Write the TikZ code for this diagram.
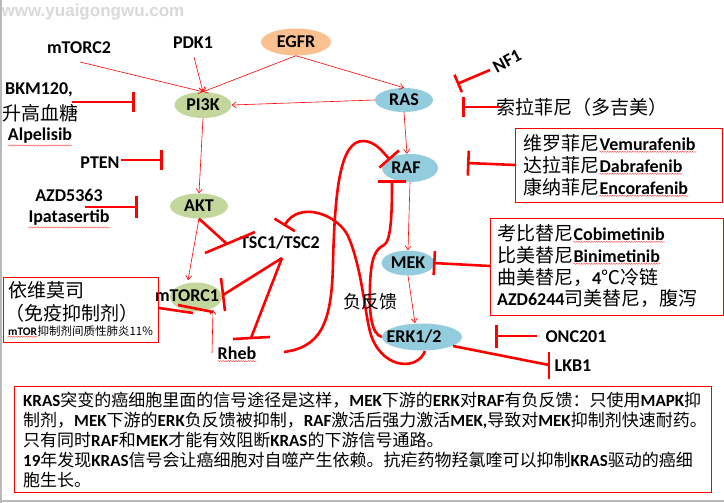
\documentclass[tikz,border=0pt]{standalone}
\usepackage{fontspec}
\setmainfont{Carlito}
\newfontfamily\cjk{Noto Sans CJK SC}
\newfontfamily\wmfont{Liberation Sans}
\usetikzlibrary{arrows.meta,calc,shapes.geometric,decorations.pathmorphing}
\newcommand\zh[1]{{\cjk\mdseries #1}}
\newcommand\lt[1]{{\rmfamily\bfseries #1}}
\definecolor{egfrc}{HTML}{FAC090}
\definecolor{pikc}{HTML}{C3D69B}
\definecolor{rasc}{HTML}{93CDDD}
\begin{document}
\begin{tikzpicture}[x=1pt,y=-1pt,
  lbl/.style={font=\fontsize{18}{20}\selectfont\bfseries, inner sep=0pt},
  zhl/.style={font=\fontsize{19}{21}\selectfont\cjk, inner sep=0pt},
  ell/.style={ellipse, inner sep=0pt, font=\fontsize{18}{20}\selectfont\bfseries},
  act/.style={red, line width=0.6pt, -{Straight Barb[length=4pt,width=6pt]}},
  inh/.style={red, line width=2.6pt},
  box/.style={draw=red, line width=1pt, inner sep=0pt},
  squig/.style={red!80, line width=0.35pt, decorate, decoration={snake, amplitude=0.6pt, segment length=2.5pt}},
  txt/.style={font=\fontsize{17}{20}\selectfont\bfseries, inner sep=0pt, anchor=base west},
]
\useasboundingbox (0,0) rectangle (724,503);
\fill[white] (0,0) rectangle (724,503);
\draw[gray!55, line width=1.5pt] (0.75,0) -- (0.75,503);
\draw[gray!55, line width=2pt] (0,501) -- (724,501);
\node[font=\wmfont\bfseries\fontsize{17}{17}\selectfont, text=gray!30, inner sep=0pt] (wm) at (93,12) {www.yuaigongwu.com};

% ellipses
\node[ell, fill=egfrc, minimum width=70pt, minimum height=27pt] (egfr) at (296,42) {EGFR};
\node[ell, fill=pikc, minimum width=57pt, minimum height=26pt] (pi3k) at (203,105) {PI3K};
\node[ell, fill=pikc, minimum width=58pt, minimum height=25pt] (akt) at (199,206) {AKT};
\node[ell, fill=pikc, minimum width=52pt, minimum height=29pt] (mtorc1) at (196,297) {};
\node[ell, fill=rasc, minimum width=58pt, minimum height=24pt] (ras) at (404,100) {RAS};
\node[ell, fill=rasc, minimum width=56pt, minimum height=28pt] (raf) at (410,168) {};
\node[ell, fill=rasc, minimum width=53pt, minimum height=25pt] (mek) at (408,263) {MEK};
\node[ell, fill=rasc, minimum width=80pt, minimum height=27pt] (erk) at (422,337) {};

% labels
\node[lbl] (mtorc1t) at (187,296) {mTORC1};
\node[lbl] (raft) at (406,168) {RAF};
\node[lbl] (erkt) at (414,337) {ERK1/2};
\node[lbl] (mtorc2) at (79,48) {mTORC2};
\node[lbl] (pdk1) at (193,43) {PDK1};
\node[lbl] (bkm) at (39,90) {BKM120,};
\node[zhl] (sgxt) at (40,113) {升高血糖};
\node[lbl] (alp) at (40,136) {Alpelisib};
\node[lbl] (pten) at (100,163) {PTEN};
\node[lbl] (azd) at (69,195) {AZD5363};
\node[lbl] (ipa) at (69,218) {Ipatasertib};
\node[lbl] (tsc) at (280,243) {TSC1/TSC2};
\node[lbl] (rheb) at (237,353) {Rheb};
\node[lbl, rotate=28] (nf1) at (507,61) {NF1};
\node[zhl] (sora) at (582,107) {索拉菲尼（多吉美）};
\node[lbl] (onc) at (576,337) {ONC201};
\node[lbl] (lkb1) at (573,366) {LKB1};

% spell-check squiggles
\draw[squig] ($(alp.south west)+(0,1.5)$) -- ($(alp.south east)+(0,1.5)$);
\draw[squig] ($(ipa.south west)+(0,1.5)$) -- ($(ipa.south east)+(0,1.5)$);
\draw[squig] ($(rheb.south west)+(0,1.5)$) -- ($(rheb.south east)+(0,1.5)$);

% RAF inhibitor box
\node[box, minimum width=207pt, minimum height=74pt, anchor=north west] (rafbox) at (515,128) {};
\node[zhl, anchor=base west] (r1c) at (523,150) {维罗菲尼};
\node[lbl, anchor=base west] (r1l) at (r1c.base east) {Vemurafenib};
\node[zhl, anchor=base west] (r2c) at (523,172) {达拉菲尼};
\node[lbl, anchor=base west] (r2l) at (r2c.base east) {Dabrafenib};
\node[zhl, anchor=base west] (r3c) at (523,194) {康纳菲尼};
\node[lbl, anchor=base west] (r3l) at (r3c.base east) {Encorafenib};
\foreach \n in {r1l,r2l,r3l}
  \draw[squig] ($(\n.south west)+(0,1.5)$) -- ($(\n.south east)+(0,1.5)$);

% MEK inhibitor box
\node[box, minimum width=233pt, minimum height=97pt, anchor=north west] (mekbox) at (490,218) {};
\node[zhl, anchor=base west] (m1c) at (497,240) {考比替尼};
\node[lbl, anchor=base west] (m1l) at (m1c.base east) {Cobimetinib};
\node[zhl, anchor=base west] (m2c) at (497,262) {比美替尼};
\node[lbl, anchor=base west] (m2l) at (m2c.base east) {Binimetinib};
\node[zhl, anchor=base west] (m3) at (497,284) {曲美替尼，\lt{\fontsize{18}{20}\selectfont 4}℃冷链};
\node[zhl, anchor=base west] (m4) at (497,305) {\lt{\fontsize{18}{20}\selectfont AZD6244}司美替尼，腹泻};
\foreach \n in {m1l,m2l}
  \draw[squig] ($(\n.south west)+(0,1.5)$) -- ($(\n.south east)+(0,1.5)$);

% everolimus box
\node[box, minimum width=155pt, minimum height=65pt, anchor=north west] (evbox) at (3,277) {};
\node[zhl, anchor=base west] (ev1) at (8,297) {依维莫司};
\node[zhl, anchor=base west] (ev2) at (5,320) {（免疫抑制剂）};
\node[lbl, anchor=base west, font=\fontsize{11.5}{12}\selectfont\bfseries] (ev3a) at (8,335) {mTOR};
\node[zhl, anchor=base west, font=\fontsize{11.5}{12}\selectfont\cjk] (ev3b) at (ev3a.base east) {抑制剂间质性肺炎11\%};
\draw[squig] ($(ev3a.south west)+(0,1.5)$) -- ($(ev3a.south east)+(0,1.5)$);

% bottom text box
\node[box, minimum width=697pt, minimum height=106pt, anchor=north west] (tbox) at (14,386) {};
\node[txt] (t1) at (23,406) {KRAS\zh{突变的癌细胞里面的信号途径是这样，}MEK\zh{下游的}ERK\zh{对}RAF\zh{有负反馈：只使用}MAPK\zh{抑}};
\node[txt] (t2) at (23,426) {\zh{制剂，}MEK\zh{下游的}ERK\zh{负反馈被抑制，}RAF\zh{激活后强力激活}MEK,\zh{导致对}MEK\zh{抑制剂快速耐药。}};
\node[txt] (t3) at (23,446) {\zh{只有同时}RAF\zh{和}MEK\zh{才能有效阻断}KRAS\zh{的下游信号通路。}};
\node[txt] (t4) at (23,466) {19\zh{年发现}KRAS\zh{信号会让癌细胞对自噬产生依赖。抗疟药物羟氯喹可以抑制}KRAS\zh{驱动的癌细}};
\node[txt] (t5) at (23,486) {\zh{胞生长。}};

% coordinates
\coordinate (mc2s) at (80,62);
\coordinate (pdks) at (194,57);
\coordinate (aktm) at (188,280);
\coordinate (rhebs) at (212,353);
\coordinate (rhebm) at (213,310);
\coordinate (erkn) at (415,323);
\coordinate (bkmS) at (72,102);   \coordinate (bkmT) at (135,102);
\coordinate (ptenS) at (121,160); \coordinate (ptenT) at (163,160);
\coordinate (azdS) at (85,207);   \coordinate (azdT) at (138,207);
\coordinate (nf1S) at (490,70);   \coordinate (nf1T) at (457,84);
\coordinate (soraS) at (500,107); \coordinate (soraT) at (462,107);
\coordinate (rafT) at (467,163);
\coordinate (mekT) at (433,263);
\coordinate (oncS) at (537,336);  \coordinate (oncT) at (495,336);
\coordinate (erkL) at (453,346);  \coordinate (lkbT) at (549,365);
\coordinate (tscA) at (227,244);
\coordinate (tscB) at (282,258);
\coordinate (mtT) at (223,295);
\coordinate (rhT) at (251,338);
\coordinate (cA0) at (284,352);
\coordinate (cAT) at (390,160);
\coordinate (cB0) at (425,351);
\coordinate (cBT) at (284,226);
\coordinate (cCT) at (392,180);

% activation arrows
\draw[act] (mc2s) -- (pi3k.north);
\draw[act] (pdks) -- (pi3k.north);
\draw[act] (egfr.south) -- (pi3k.north);
\draw[act] (egfr.south) -- (ras.north);
\draw[act] (ras.west) -- (pi3k.east);
\draw[act] (ras.south) -- ($(raf.north)+(-3,0)$);
\draw[act] (pi3k.south) -- (akt.north);
\draw[act] (akt.south) -- (aktm);
\draw[act] (raf.south) -- (mek.north);
\draw[act] (mek.south) -- (erkn);
\draw[act] (rhebs) -- (rhebm);

% inhibition lines
\draw[inh, -{Bar[width=20pt]}] (bkmS) -- (bkmT);
\draw[inh, -{Bar[width=20pt]}] (ptenS) -- (ptenT);
\draw[inh, -{Bar[width=22pt]}] (azdS) -- (azdT);
\draw[inh, -{Bar[width=19pt]}] (nf1S) -- (nf1T);
\draw[inh, -{Bar[width=20pt]}] (soraS) -- (soraT);
\draw[inh, -{Bar[width=25pt]}] (rafbox.west |- 0,165) -- (rafT);
\draw[inh, -{Bar[width=24pt]}] (mekbox.west |- 0,266) -- (mekT);
\draw[inh, -{Bar[width=23pt]}] (oncS) -- (oncT);
\draw[inh] (erkL) -- (lkbT);
\draw[inh] ($(lkbT)+(0,-13)$) -- ($(lkbT)+(0,14)$);
\draw[inh] (akt.south) -- (tscA);
\draw[inh] (205,253) -- (255,232);
\draw[inh] (tscB) -- (mtT);
\draw[inh] (221,278) -- (225,311);
\draw[inh] (tscB) -- (rhT);
\draw[inh] (233,339) -- (270,337);
\draw[inh] (evbox.east |- 0,308) -- (193,313);
\draw[inh] (178,305) -- (213,312);

% feedback curves
\draw[inh, -{Bar[width=26pt]}] (cA0) .. controls (320,347) and (332,325) .. (333,262)
  .. controls (335,190) and (340,141) .. (363,141)
  .. controls (375,141) and (383,152) .. (cAT);
\draw[inh, -{Bar[width=24pt]}] (cB0) .. controls (418,370) and (385,370) .. (372,338)
  .. controls (365,320) and (363,270) .. (348,236)
  .. controls (338,215) and (300,200) .. (cBT);
\draw[inh, -{Bar[width=28pt]}] (erk.west) .. controls (371,334) and (369,312) .. (370,285)
  .. controls (371,256) and (376,249) .. (384,245)
  .. controls (391,241) and (392,215) .. (cCT);

\node[zhl, font=\fontsize{18}{20}\selectfont\cjk] (fb) at (370,302) {负反馈};
\end{tikzpicture}
\end{document}
